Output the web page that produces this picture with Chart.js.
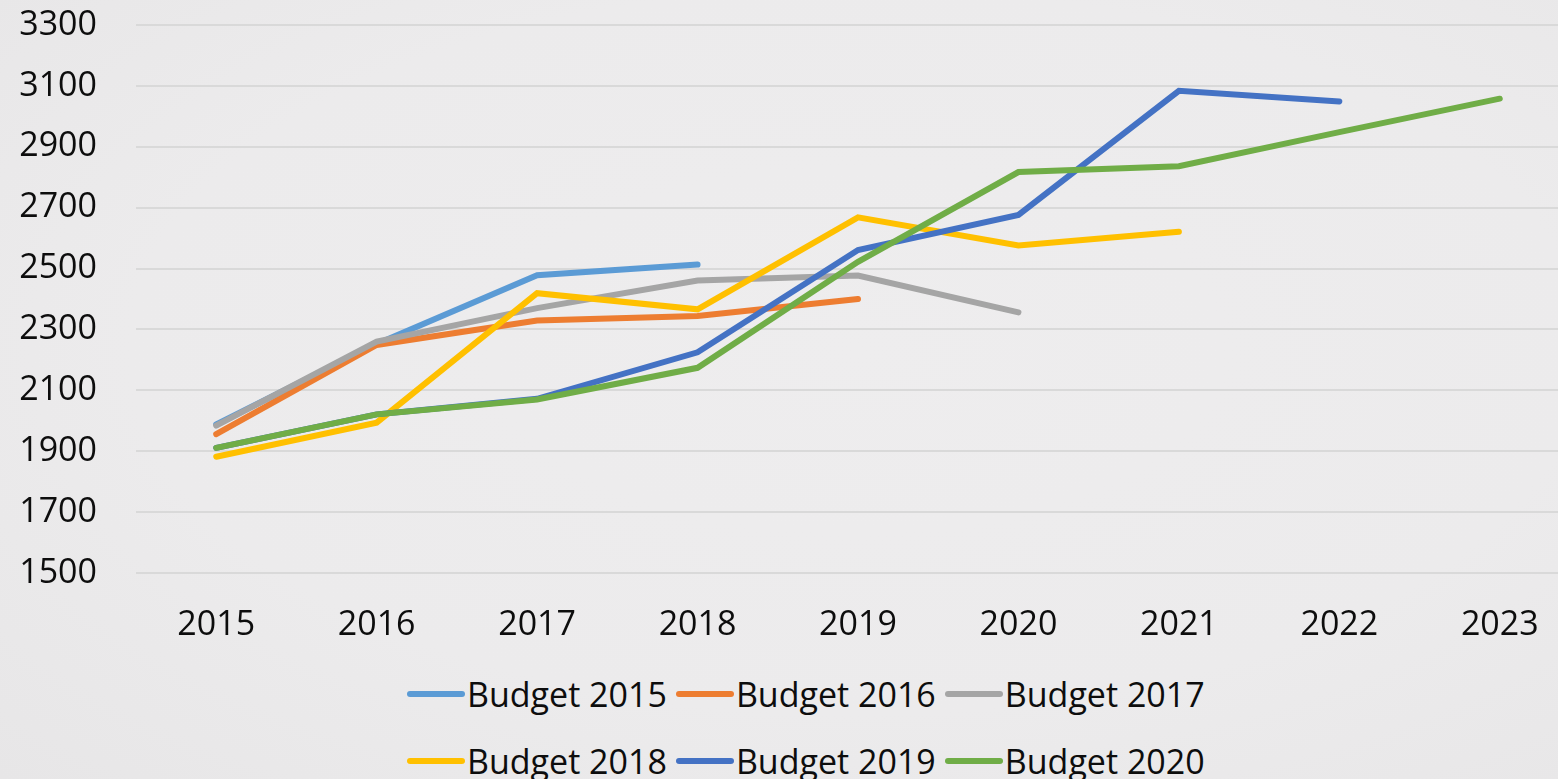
<!DOCTYPE html>
<html>
<head>
<meta charset="utf-8">
<script src="https://cdn.jsdelivr.net/npm/chart.js@4"></script>
<style>
  html, body { margin: 0; padding: 0; overflow: hidden; }
  body {
    width: 1558px; height: 779px;
    background: radial-gradient(ellipse at 55% 45%, #eeedee 0%, #ecebec 60%, #e7e6e7 100%);
    font-family: 'Open Sans', sans-serif;
    position: relative;
  }
  #wrap { position: absolute; left: 0; top: 0; width: 1580px; height: 645px; }
  #legend {
    position: absolute; left: 407px; top: 660px; width: 830px;
    display: flex; flex-wrap: wrap;
  }
  .item { display: flex; align-items: center; height: 67px; margin-right: 9px; }
  .mark { width: 58px; height: 6px; border-radius: 3px; }
  .txt { font-size: 34px; color: #0d0d0d; margin-left: 2px; white-space: nowrap; }
</style>
</head>
<body>
<div id="wrap"><canvas id="myChart"></canvas></div>
<div id="legend"></div>
<script>
const ctx = document.getElementById('myChart');

const years = ['2015', '2016', '2017', '2018', '2019', '2020', '2021', '2022', '2023'];
const seriesNames = ['Budget 2015', 'Budget 2016', 'Budget 2017', 'Budget 2018', 'Budget 2019', 'Budget 2020'];
const budget2015 = [1988, 2252, 2478, 2513];
const budget2016 = [1956, 2249, 2329, 2344, 2400];
const budget2017 = [1984, 2260, 2370, 2461, 2477, 2356];
const budget2018 = [1882, 1994, 2419, 2366, 2668, 2576, 2621];
const budget2019 = [1911, 2021, 2072, 2225, 2561, 2676, 3084, 3049];
const budget2020 = [1911, 2021, 2070, 2174, 2522, 2817, 2836, 2948, 3058];
const colors = ['#5B9BD5', '#ED7D31', '#A5A5A5', '#FFC000', '#4472C4', '#70AD47'];

const allSeries = [budget2015, budget2016, budget2017, budget2018, budget2019, budget2020];

const datasets = allSeries.map((vals, i) => ({
  label: seriesNames[i],
  data: vals,
  borderColor: colors[i],
  backgroundColor: colors[i],
  borderWidth: 6,
  borderCapStyle: 'round',
  pointRadius: 0,
  tension: 0,
  order: allSeries.length - i   // later budgets drawn on top
}));

const font = { family: "'Open Sans', sans-serif", size: 34 };

const chart = new Chart(ctx, {
  type: 'line',
  data: { labels: years, datasets: datasets },
  options: {
    responsive: true,
    maintainAspectRatio: false,
    animation: false,
    layout: { padding: 0 },
    plugins: {
      legend: { display: false },
      tooltip: { enabled: false }
    },
    scales: {
      x: {
        offset: true,
        grid: { display: false, drawTicks: false },
        border: { display: false },
        ticks: { color: '#0d0d0d', font: font, padding: 32, maxRotation: 0 },
        afterFit: s => { s.height = 72; }
      },
      y: {
        min: 1500,
        max: 3300,
        grid: { color: '#d9d9d9', lineWidth: 2, drawTicks: false },
        border: { display: false },
        ticks: {
          stepSize: 200, color: '#0d0d0d', font: font, padding: 39,
          callback: v => String(v)
        },
        afterFit: s => {
          s.width = 136;
          s.paddingTop = 25;
          s.paddingBottom = 0;
        }
      }
    }
  }
});

// legend in two rows, like the original
const legendBox = document.getElementById('legend');
chart.data.datasets.forEach(ds => {
  const item = document.createElement('div');
  item.className = 'item';
  const mark = document.createElement('span');
  mark.className = 'mark';
  mark.style.background = ds.borderColor;
  const txt = document.createElement('span');
  txt.className = 'txt';
  txt.textContent = ds.label;
  item.appendChild(mark);
  item.appendChild(txt);
  legendBox.appendChild(item);
});
</script>
</body>
</html>
